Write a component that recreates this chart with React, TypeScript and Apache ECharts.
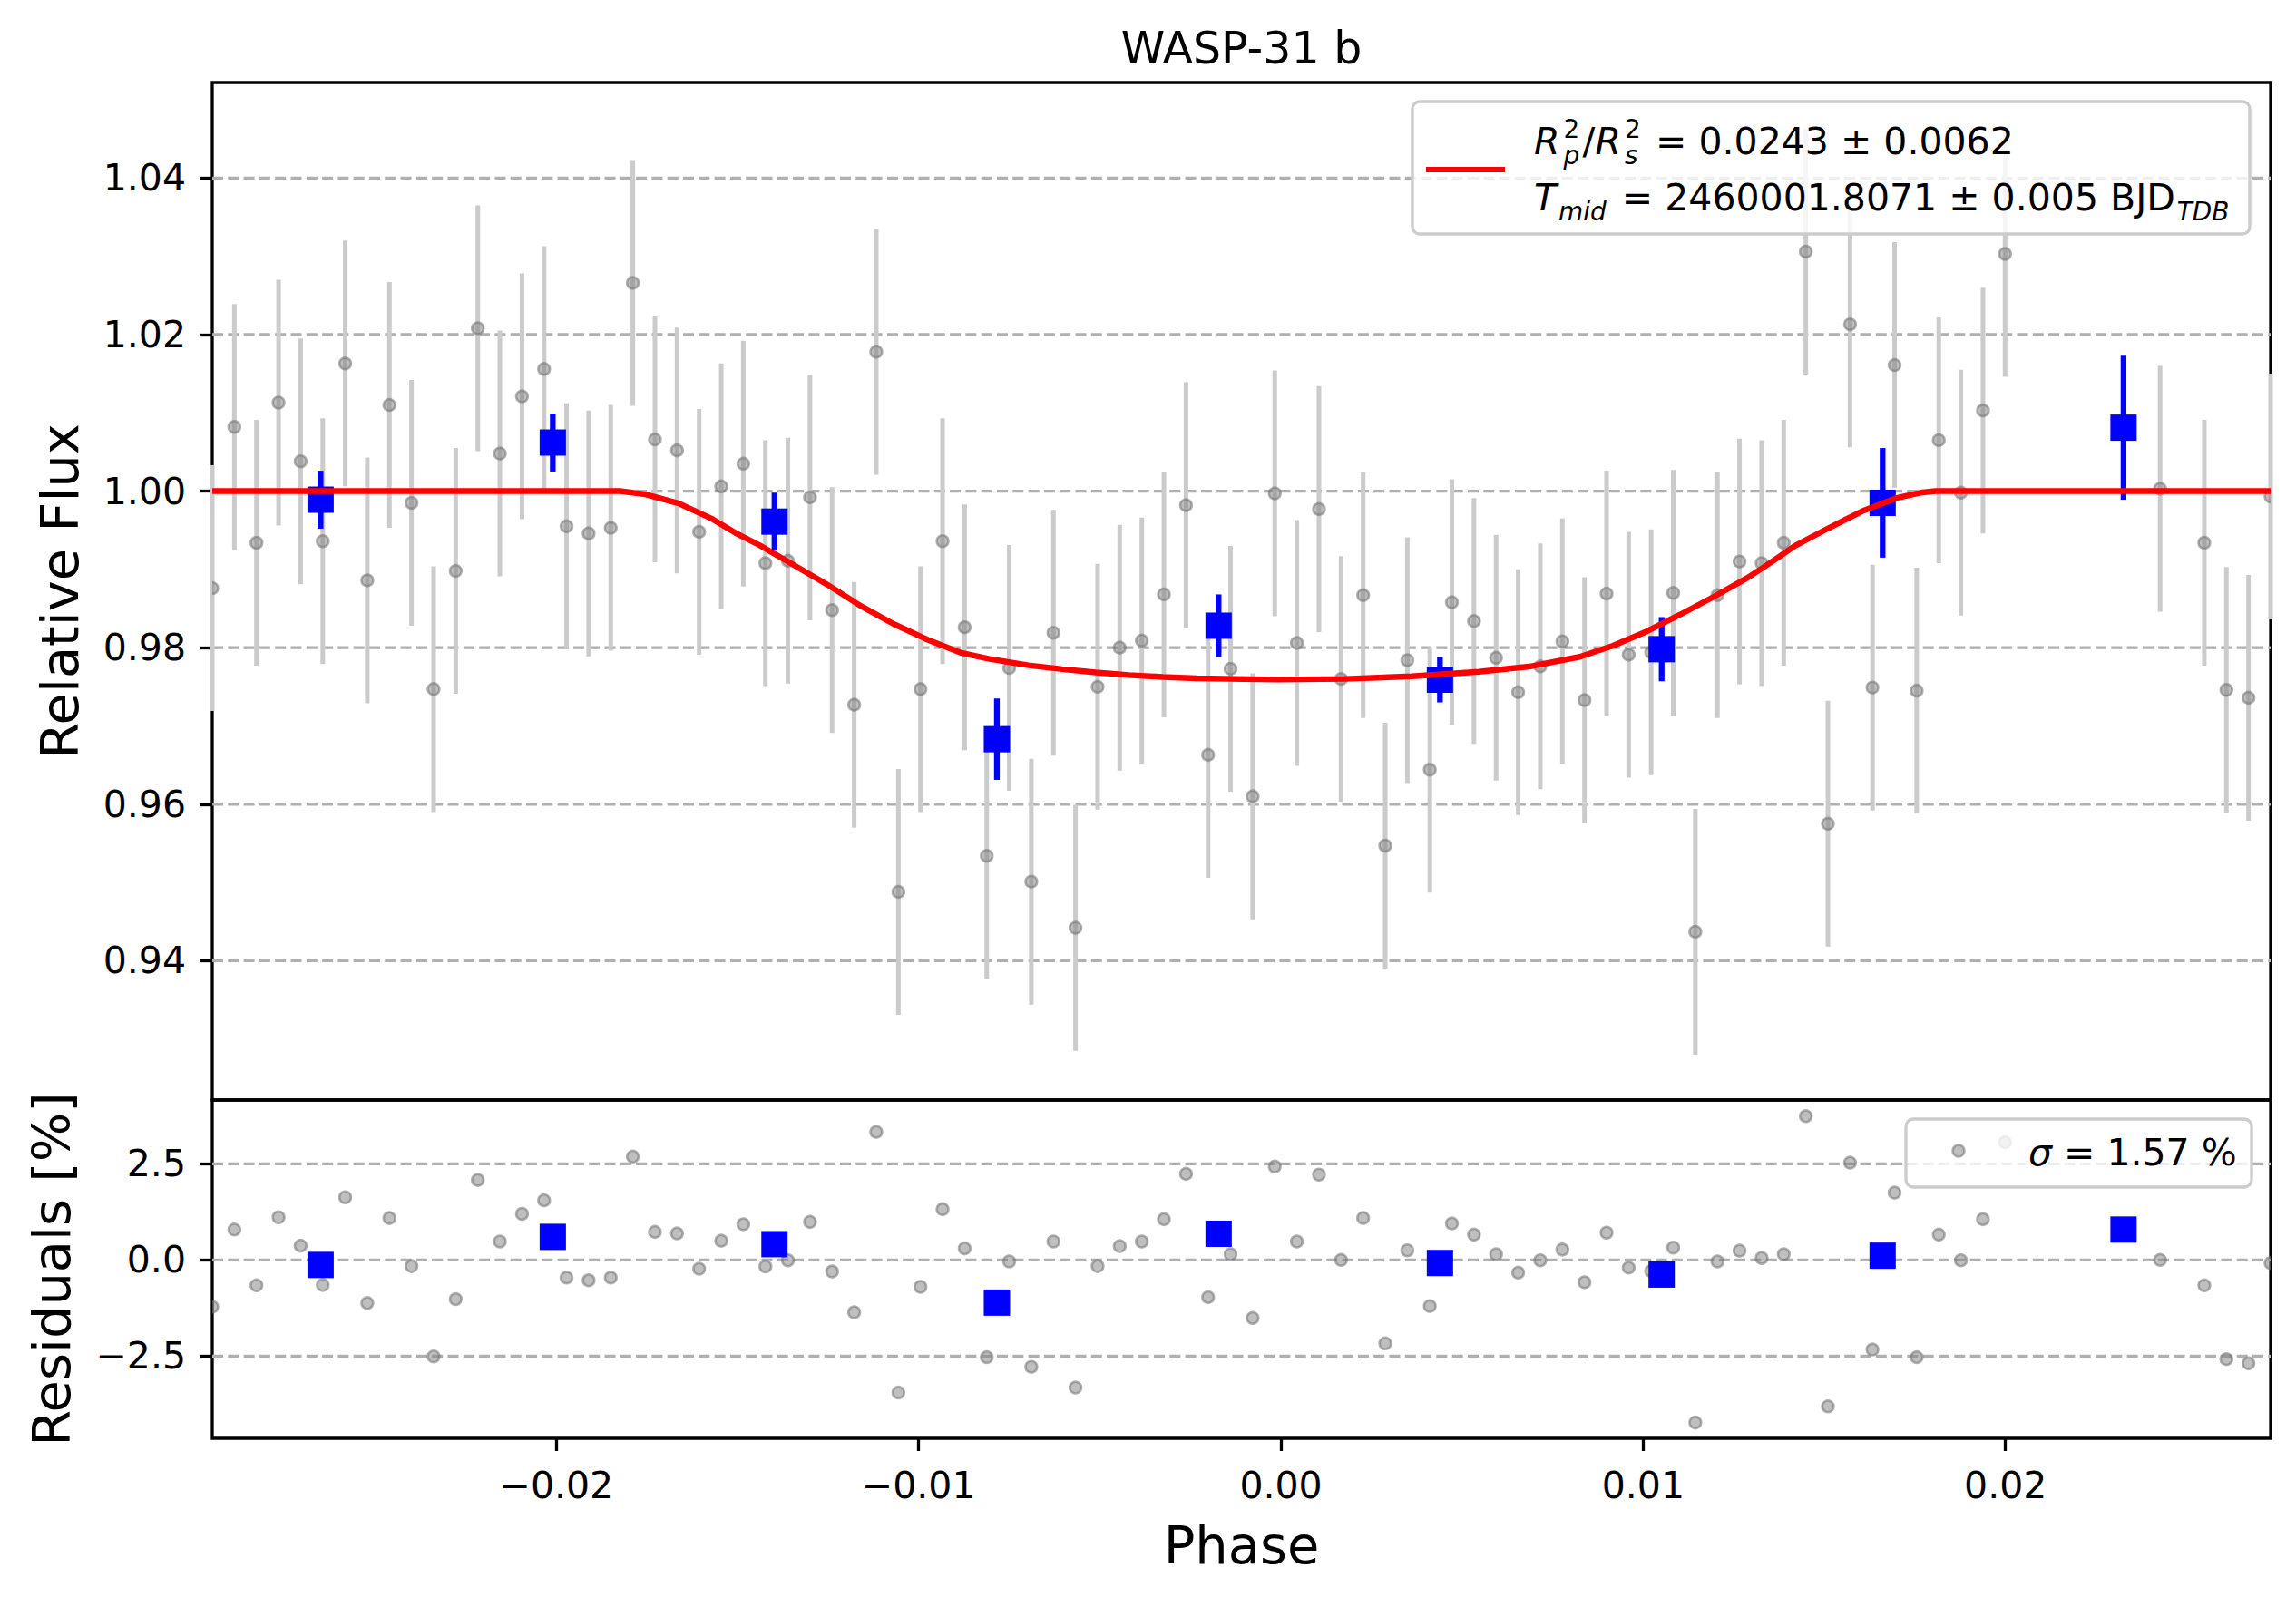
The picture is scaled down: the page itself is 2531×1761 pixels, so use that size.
import { useEffect, useRef } from "react";
import * as echarts from "echarts";

/* ========== data ========== */

// orbital phase of every exposure (frames 82-87 and 89 are missing)
const PHASE = [
  -0.0295, -0.02889, -0.02828, -0.02767, -0.02706, -0.02645, -0.02583, -0.02522, -0.02461, -0.024,
  -0.02339, -0.02278, -0.02217, -0.02156, -0.02095, -0.02034, -0.01972, -0.01911, -0.0185, -0.01789,
  -0.01728, -0.01667, -0.01606, -0.01545, -0.01484, -0.01423, -0.01361, -0.013, -0.01239, -0.01178,
  -0.01117, -0.01056, -0.00995, -0.00934, -0.00873, -0.00812, -0.0075, -0.00689, -0.00628, -0.00567,
  -0.00506, -0.00445, -0.00384, -0.00323, -0.00262, -0.00201, -0.00139, -0.00078, -0.00017, 0.00044,
  0.00105, 0.00166, 0.00227, 0.00288, 0.00349, 0.00411, 0.00472, 0.00533, 0.00594, 0.00655,
  0.00716, 0.00777, 0.00838, 0.00899, 0.0096, 0.01022, 0.01083, 0.01144, 0.01205, 0.01266,
  0.01327, 0.01388, 0.01449, 0.0151, 0.01571, 0.01633, 0.01694, 0.01755, 0.01816, 0.01877,
  0.01938, 0.01999, 0.02427, 0.02549, 0.0261, 0.02671, 0.02732,
];

const FLUX = [
  0.9876, 1.0082, 0.9934, 1.0113, 1.0038, 0.9936, 1.0163, 0.9886, 1.011, 0.9985,
  0.9747, 0.9898, 1.0208, 1.0048, 1.0121, 1.0156, 0.9955, 0.9946, 0.9953, 1.0266,
  1.0066, 1.0052, 0.9948, 1.0006, 1.0035, 0.9908, 0.9911, 0.9992, 0.9848, 0.9727,
  1.0178, 0.9488, 0.9747, 0.9936, 0.9826, 0.9534, 0.9774, 0.9501, 0.9819, 0.9442,
  0.975, 0.98, 0.9809, 0.9868, 0.9982, 0.9663, 0.9773, 0.961, 0.9997, 0.9806,
  0.9977, 0.976, 0.9867, 0.9547, 0.9784, 0.9644, 0.9858, 0.9834, 0.9787, 0.9743,
  0.9776, 0.9808, 0.9733, 0.9869, 0.9791, 0.9794, 0.987, 0.9437, 0.9867, 0.991,
  0.9908, 0.9934, 1.0306, 0.9575, 1.0213, 0.9749, 1.0161, 0.9745, 1.0065, 0.9998,
  1.0103, 1.0303, 1.0003, 0.9934, 0.9746, 0.9736, 0.9993,
];

const FLUX_ERR = 0.0157;

// residuals in percent
const RESID = [
  -1.22, 0.79, -0.66, 1.11, 0.37, -0.65, 1.63, -1.12, 1.09, -0.16,
  -2.51, -1.02, 2.08, 0.48, 1.2, 1.55, -0.46, -0.53, -0.46, 2.69,
  0.73, 0.69, -0.23, 0.5, 0.93, -0.17, -0.01, 0.99, -0.3, -1.36,
  3.33, -3.45, -0.7, 1.32, 0.3, -2.53, -0.04, -2.78, 0.48, -3.32,
  -0.16, 0.36, 0.48, 1.06, 2.24, -0.97, 0.15, -1.51, 2.43, 0.48,
  2.22, 0.0, 1.09, -2.17, 0.25, -1.2, 0.95, 0.66, 0.15, -0.33,
  -0.01, 0.27, -0.58, 0.71, -0.2, -0.29, 0.32, -4.23, -0.04, 0.24,
  0.05, 0.15, 3.74, -3.81, 2.53, -2.33, 1.75, -2.53, 0.66, -0.01,
  1.06, 3.06, 0.0, -0.66, -2.58, -2.69, -0.08,
];

const BIN_PHASE = [-0.02651, -0.0201, -0.01398, -0.00784, -0.00172, 0.00439, 0.01051, 0.01661, 0.02326];
const BIN_FLUX = [0.9989, 1.0062, 0.9961, 0.9683, 0.9828, 0.9759, 0.9798, 0.9985, 1.0081];
const BIN_ERR = [0.0037, 0.0037, 0.0037, 0.0052, 0.004, 0.0029, 0.0041, 0.007, 0.0092];
const BIN_RESID = [-0.13, 0.6, 0.41, -1.11, 0.68, -0.08, -0.38, 0.11, 0.79];

const MODEL_PHASE = [
  -0.0295, -0.01824, -0.01754, -0.01662, -0.01569, -0.01506, -0.01439, -0.01346, -0.01253, -0.0116,
  -0.01068, -0.00975, -0.00882, -0.00808, -0.00697, -0.00604, -0.00511, -0.00419, -0.00326, -0.00233,
  -0.0001, 0.00175, 0.00361, 0.00546, 0.00685, 0.00825, 0.00917, 0.0101, 0.01103, 0.01195,
  0.01288, 0.0135, 0.01419, 0.01511, 0.01604, 0.01697, 0.01771, 0.01807, 0.02732,
];
const MODEL_FLUX = [
  1.0, 1.0, 0.99958, 0.99842, 0.99642, 0.99467, 0.99308, 0.99058, 0.98808, 0.98533,
  0.983, 0.981, 0.97933, 0.97858, 0.97775, 0.97725, 0.97683, 0.9765, 0.97625, 0.97608,
  0.97592, 0.976, 0.97633, 0.97692, 0.97758, 0.97883, 0.98025, 0.98208, 0.98425, 0.9865,
  0.98892, 0.9908, 0.993, 0.99525, 0.99742, 0.99908, 0.99983, 1.0, 1.0,
];

const PHASE_TICKS = [-0.02, -0.01, 0, 0.01, 0.02];
const FLUX_TICKS = [0.94, 0.96, 0.98, 1.0, 1.02, 1.04];
const RESID_TICKS = [-2.5, 0, 2.5];

const X_MIN = -0.0295;
const X_MAX = 0.02732;
const FLUX_MIN = 0.9222;
const FLUX_MAX = 1.0522;
const RESID_MIN = -4.64;
const RESID_MAX = 4.16;

/* ========== layout ========== */

const W = 2531;
const H = 1761;
const LEFT = 234;
const RIGHT = 2503;
const TOP = 91;
const MID = 1213;
const BOTTOM = 1586;

const FONT = "'DejaVu Sans', sans-serif";
const TICK_FS = 41;
const LABEL_FS = 57.5;
const GRAY_FILL = "rgba(128,128,128,0.5)";
const GRAY_EDGE = "rgba(115,115,115,0.55)";

const fmt = (v: number, d: number) => (v < 0 ? "\u2212" : "") + Math.abs(v).toFixed(d);

// caps centre -> y of a "middle" aligned text
const mid = (capsCentre: number, size: number) => capsCentre + 0.07 * size;

/* ========== render helpers ========== */

const hLine = (params: any, api: any) => {
  const v = api.value(1);
  const a = api.coord([X_MIN, v]);
  const b = api.coord([X_MAX, v]);
  return {
    type: "line",
    shape: { x1: a[0], y1: a[1], x2: b[0], y2: b[1] },
    style: { stroke: "#b0b0b0", lineWidth: 3.3, lineDash: [12, 5.3] },
  };
};

const errBar = (color: string, width: number) => (params: any, api: any) => {
  const x = api.value(0);
  const y = api.value(1);
  const e = api.value(2);
  const a = api.coord([x, y - e]);
  const b = api.coord([x, y + e]);
  return {
    type: "line",
    shape: { x1: a[0], y1: a[1], x2: b[0], y2: b[1] },
    style: { stroke: color, lineWidth: width },
  };
};

const dot = (params: any, api: any) => {
  const p = api.coord([api.value(0), api.value(1)]);
  return {
    type: "circle",
    shape: { cx: p[0], cy: p[1], r: 6.4 },
    style: { fill: GRAY_FILL, stroke: GRAY_EDGE, lineWidth: 2.6 },
  };
};

interface Part {
  t: string;
  italic?: boolean;
  pos?: "sup" | "sub";
  stack?: boolean;
  gap?: number; // extra space (em) before this part
}

function mathLine(x0: number, base: number, size: number, parts: Part[]) {
  const ctx = document.createElement("canvas").getContext("2d")!;
  const els: any[] = [];
  let x = x0;
  let start = x0;
  for (const p of parts) {
    const s = p.pos ? size * 0.68 : size;
    const font = `${p.italic ? "italic " : ""}${s}px ${FONT}`;
    ctx.font = font;
    const w = ctx.measureText(p.t).width;
    let px: number;
    if (p.stack) {
      px = start;
      x = Math.max(x, px + w);
    } else {
      x += (p.gap ?? 0) * size;
      px = x;
      start = x;
      x += w;
    }
    const dy = p.pos === "sup" ? -0.42 * size : p.pos === "sub" ? 0.28 * size : 0;
    els.push({
      type: "text",
      x: px,
      y: base + dy - 0.297 * s,
      z: 12,
      style: {
        text: p.t, font, fill: "#000",
        align: "left", verticalAlign: "middle",
        textAlign: "left", textVerticalAlign: "middle",
      },
    });
  }
  return els;
}

function plainText(text: string, x: number, y: number, size: number, rotation = 0) {
  return {
    type: "text",
    x, y, rotation, z: 12,
    style: {
      text, font: `${size}px ${FONT}`, fill: "#000",
      align: "center", verticalAlign: "middle",
      textAlign: "center", textVerticalAlign: "middle",
    },
  };
}

/* ========== option ========== */

function buildOption() {
  const tick = { show: true, length: 14, lineStyle: { color: "#000", width: 3.3 } };
  const label = { color: "#000", fontFamily: FONT, fontSize: TICK_FS };
  const box = { show: true, borderColor: "#000", borderWidth: 3.3, backgroundColor: "transparent" };

  const graphic: any[] = [
    plainText("WASP-31 b", (LEFT + RIGHT) / 2, mid(50, 49), 49),
    plainText("Relative Flux", 66, (TOP + MID) / 2, LABEL_FS, Math.PI / 2),
    plainText("Residuals [%]", 57, (MID + BOTTOM) / 2, LABEL_FS, Math.PI / 2),
    plainText("Phase", (LEFT + RIGHT) / 2, mid(1700, LABEL_FS), LABEL_FS),
    // model legend
    {
      type: "rect", z: 10,
      shape: { x: 1557, y: 112, width: 923, height: 146, r: 8 },
      style: { fill: "rgba(255,255,255,0.8)", stroke: "#cccccc", lineWidth: 3.3 },
    },
    {
      type: "line", z: 11,
      shape: { x1: 1572, y1: 187, x2: 1659, y2: 187 },
      style: { stroke: "#ff0000", lineWidth: 6.2 },
    },
    ...mathLine(1691, 168, 41, [
      { t: "R", italic: true },
      { t: "2", pos: "sup", gap: 0.1 },
      { t: "p", italic: true, pos: "sub", stack: true },
      { t: "/", gap: 0.08 },
      { t: "R", italic: true },
      { t: "2", pos: "sup", gap: 0.1 },
      { t: "s", italic: true, pos: "sub", stack: true },
      { t: " = 0.0243 \u00b1 0.0062", gap: 0.08 },
    ]),
    ...mathLine(1691, 230, 41, [
      { t: "T", italic: true },
      { t: "mid", italic: true, pos: "sub", gap: 0.05 },
      { t: " = 2460001.8071 \u00b1 0.005 BJD", gap: 0.1 },
      { t: "TDB", italic: true, pos: "sub", gap: 0.05 },
    ]),
    // residual legend
    {
      type: "rect", z: 10,
      shape: { x: 2101, y: 1234, width: 381, height: 75, r: 8 },
      style: { fill: "rgba(255,255,255,0.8)", stroke: "#cccccc", lineWidth: 3.3 },
    },
    {
      type: "circle", z: 11,
      shape: { cx: 2159, cy: 1269, r: 6.4 },
      style: { fill: GRAY_FILL, stroke: GRAY_EDGE, lineWidth: 2.6 },
    },
    ...mathLine(2236, 1283, 41, [{ t: "\u03c3", italic: true }, { t: " = 1.57 %" }]),
  ];

  return {
    animation: false,
    backgroundColor: "#fff",
    grid: [
      { left: LEFT, top: TOP, width: RIGHT - LEFT, height: MID - TOP, ...box },
      { left: LEFT, top: MID, width: RIGHT - LEFT, height: BOTTOM - MID, ...box },
    ],
    xAxis: [
      { gridIndex: 0, type: "value", min: X_MIN, max: X_MAX, show: false },
      {
        gridIndex: 1, type: "value", min: X_MIN, max: X_MAX,
        axisLine: { show: false, onZero: false },
        axisTick: { ...tick, customValues: PHASE_TICKS },
        axisLabel: { ...label, margin: 31, customValues: PHASE_TICKS, formatter: (v: number) => fmt(v, 2) },
        splitLine: { show: false },
      },
    ],
    yAxis: [
      {
        gridIndex: 0, type: "value", min: FLUX_MIN, max: FLUX_MAX,
        axisLine: { show: false, onZero: false },
        axisTick: { ...tick, customValues: FLUX_TICKS },
        axisLabel: { ...label, margin: 29, customValues: FLUX_TICKS, formatter: (v: number) => v.toFixed(2) },
        splitLine: { show: false },
      },
      {
        gridIndex: 1, type: "value", min: RESID_MIN, max: RESID_MAX,
        axisLine: { show: false, onZero: false },
        axisTick: { ...tick, customValues: RESID_TICKS },
        axisLabel: { ...label, margin: 29, customValues: RESID_TICKS, formatter: (v: number) => fmt(v, 1) },
        splitLine: { show: false },
      },
    ],
    series: [
      {
        type: "custom", xAxisIndex: 0, yAxisIndex: 0, z: 1, silent: true,
        encode: { x: 0, y: 1 },
        data: FLUX_TICKS.map((v) => [X_MIN, v]),
        renderItem: hLine,
      },
      {
        type: "custom", xAxisIndex: 1, yAxisIndex: 1, z: 1, silent: true,
        encode: { x: 0, y: 1 },
        data: RESID_TICKS.map((v) => [X_MIN, v]),
        renderItem: hLine,
      },
      {
        type: "custom", xAxisIndex: 0, yAxisIndex: 0, z: 2, silent: true,
        encode: { x: 0, y: 1 },
        data: PHASE.map((x, i) => [x, FLUX[i], FLUX_ERR]),
        renderItem: errBar("#cbcbcb", 5),
      },
      {
        type: "custom", xAxisIndex: 0, yAxisIndex: 0, z: 3, silent: true, clip: true,
        encode: { x: 0, y: 1 },
        data: PHASE.map((x, i) => [x, FLUX[i]]),
        renderItem: dot,
      },
      {
        type: "custom", xAxisIndex: 0, yAxisIndex: 0, z: 4, silent: true,
        encode: { x: 0, y: 1 },
        data: BIN_PHASE.map((x, i) => [x, BIN_FLUX[i], BIN_ERR[i]]),
        renderItem: errBar("#0000ff", 6.3),
      },
      {
        type: "scatter", xAxisIndex: 0, yAxisIndex: 0, z: 5, silent: true,
        symbol: "rect", symbolSize: 29,
        itemStyle: { color: "#0000ff", opacity: 1 },
        data: BIN_PHASE.map((x, i) => [x, BIN_FLUX[i]]),
      },
      {
        type: "line", xAxisIndex: 0, yAxisIndex: 0, z: 6, silent: true,
        showSymbol: false, symbol: "none",
        lineStyle: { color: "#ff0000", width: 6.4 },
        data: MODEL_PHASE.map((x, i) => [x, MODEL_FLUX[i]]),
      },
      {
        type: "custom", xAxisIndex: 1, yAxisIndex: 1, z: 3, silent: true, clip: true,
        encode: { x: 0, y: 1 },
        data: PHASE.map((x, i) => [x, RESID[i]]),
        renderItem: dot,
      },
      {
        type: "scatter", xAxisIndex: 1, yAxisIndex: 1, z: 5, silent: true,
        symbol: "rect", symbolSize: 29,
        itemStyle: { color: "#0000ff", opacity: 1 },
        data: BIN_PHASE.map((x, i) => [x, BIN_RESID[i]]),
      },
    ],
    graphic,
  };
}

/* ========== App ========== */

export default function App() {
  const chartRef = useRef<HTMLDivElement>(null);

  useEffect(() => {
    if (!chartRef.current) return;
    const chart = echarts.init(chartRef.current, null, { renderer: "svg" });
    chart.setOption(buildOption() as any);
    return () => chart.dispose();
  }, []);

  return (
    <div
      ref={chartRef}
      style={{ position: "absolute", left: 0, top: 0, width: W, height: H, background: "#fff" }}
    />
  );
}
